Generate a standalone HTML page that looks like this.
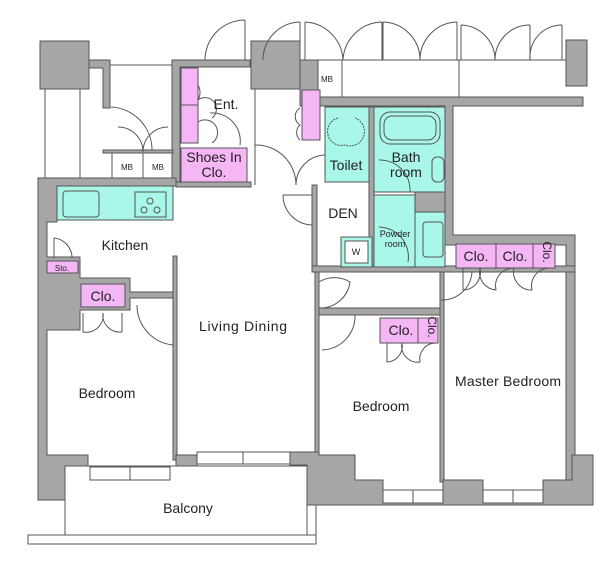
<!DOCTYPE html>
<html><head><meta charset="utf-8"><style>
html,body{margin:0;padding:0;background:#fff;}
svg{display:block;font-family:"Liberation Sans",sans-serif;}
</style></head><body>
<svg width="616" height="570" viewBox="0 0 616 570" xmlns="http://www.w3.org/2000/svg">
<g stroke="#555" stroke-width="1">
<line x1="300" y1="60" x2="566" y2="60"/>
<line x1="318" y1="97" x2="566" y2="97"/>
<line x1="342" y1="60" x2="342" y2="97"/>
<line x1="459" y1="60" x2="459" y2="97"/>
<g fill="#a6a6a6">
<rect x="40" y="41" width="49" height="48"/>
<path d="M89 60 H110 V108 H103 V68 H89 Z"/>
<rect x="566" y="40" width="21" height="46"/>
<path d="M172 60 H250 V67 H180 V186 H172 Z"/>
<rect x="251" y="41" width="49" height="48"/>
<path d="M300 60 H318 V97 H583 V106 H453 V235 H575 V490 H566 V245 H445 V106 H300 Z"/>
<path d="M38 178 H176 V186 H57 V222 H47 V257 H80 V278 H130 V292 H175 V298 H130 V310 H80 V330 H47 V455 H88 V500 H38 Z"/>
<rect x="103" y="150" width="70" height="3"/>
<rect x="176" y="182" width="75" height="5"/>
<rect x="312" y="185" width="5" height="82"/>
<rect x="369" y="107" width="5" height="160"/>
<rect x="312" y="266" width="263" height="6"/>
<rect x="315" y="308" width="128" height="7"/>
<rect x="315" y="272" width="4" height="190"/>
<rect x="440" y="272" width="4" height="210"/>
<rect x="173" y="256" width="4" height="204"/>
<rect x="415" y="192" width="30" height="20"/>
<path d="M176 455 H197 V467 H184 V481 H176 Z"/>
<path d="M290 452 H319 V455 H355 V480 H383 V490 H443 V480 H483 V490 H543 V480 H572 V455 H593 V505 H307 V465 H290 Z"/>
</g>
<rect x="45" y="89" width="35" height="89" fill="#fff"/>
<line x1="80" y1="89" x2="80" y2="178"/>
<line x1="110" y1="65" x2="172" y2="65"/>
<line x1="255" y1="89" x2="255" y2="185"/>
<g fill="#a8f7e8">
<rect x="57" y="186" width="116" height="34"/>
<rect x="325" y="107" width="44" height="75"/>
<rect x="374" y="107" width="71" height="85"/>
<rect x="374" y="195" width="41" height="72"/>
<rect x="415" y="212" width="30" height="55"/>
<rect x="341" y="237" width="31" height="30"/>
</g>
<rect x="345" y="241" width="23" height="22" fill="#fff"/>
<rect x="63" y="191" width="36" height="26" rx="3" fill="none"/>
<rect x="135" y="192" width="31" height="25" fill="none"/>
<circle cx="150" cy="201" r="3" fill="none"/><circle cx="144" cy="210" r="3" fill="none"/><circle cx="157" cy="210" r="3" fill="none"/>
<rect x="380" y="112" width="60" height="32" rx="10" fill="none"/>
<rect x="384" y="116" width="52" height="24" rx="8" fill="none"/>
<rect x="432" y="157" width="12" height="25" rx="5" fill="none"/>
<rect x="423" y="222" width="20" height="35" rx="3" fill="none"/>
<g fill="#f4b6f4">
<rect x="181" y="68" width="17" height="75"/>
<rect x="181" y="148" width="66" height="34"/>
<rect x="302" y="90" width="18" height="50"/>
<rect x="47" y="261" width="31" height="12"/>
<rect x="81" y="284" width="44" height="23"/>
<rect x="380" y="318" width="58" height="25"/>
<rect x="456" y="244" width="99" height="24"/>
</g>
<line x1="181" y1="105" x2="198" y2="105"/>
<line x1="418" y1="318" x2="418" y2="343"/>
<line x1="496" y1="244" x2="496" y2="268"/><line x1="533" y1="244" x2="533" y2="268"/>
<rect x="112" y="153" width="60" height="25" fill="#fff"/>
<line x1="143" y1="153" x2="143" y2="178"/>
<rect x="65" y="466" width="242" height="69" fill="#fff"/>
<rect x="28" y="535" width="288" height="9" fill="#fff"/>
<line x1="307" y1="505" x2="316" y2="505"/><line x1="316" y1="505" x2="316" y2="535"/>
<g fill="#fff">
<rect x="90" y="467" width="80" height="13"/>
<rect x="197" y="452" width="93" height="12"/>
<rect x="383" y="490" width="60" height="13"/>
<rect x="483" y="490" width="60" height="13"/>
</g>
<line x1="130" y1="467" x2="130" y2="480"/><line x1="243" y1="452" x2="243" y2="464"/>
<line x1="413" y1="490" x2="413" y2="503"/><line x1="513" y1="490" x2="513" y2="503"/>
<g fill="none">
<path d="M245 20 V60 M245 20 A40 40 0 0 0 205 60"/>
<path d="M305 22 V60 M305 22 A40 40 0 0 1 343 60 M382 22 V60 M382 22 A40 40 0 0 0 343 60"/>
<path d="M383 22 V60 M383 22 A38 38 0 0 1 420 60 M457 22 V60 M457 22 A38 38 0 0 0 420 60"/>
<path d="M461 25 V60 M461 25 A35 35 0 0 1 495 60 M530 25 V60 M530 25 A35 35 0 0 0 495 60 M562 25 V60 M562 25 A32 32 0 0 0 530 60"/>
<path d="M300 22 V60 M300 22 A38 38 0 0 0 263 60"/>
<path d="M111 107 A43 43 0 0 1 152 150 M118 127 A25 25 0 0 1 143 152 M168 127 A25 25 0 0 0 143 152"/>
<path d="M198 85 A15 15 0 0 1 198 100 A10 10 0 0 1 212 118 M198 122 A12 12 0 0 1 212 143 M210 113 A28 28 0 0 1 240 145"/>
<path d="M255 145 A40 40 0 0 1 296 185 M296 185 A30 30 0 0 1 325 155 M300 108 A10 10 0 0 0 300 125 A10 10 0 0 0 300 140"/>
<path d="M283 195 H312 M283 195 A30 30 0 0 0 312 225"/>
<path d="M54 238 V258 M54 238 A20 20 0 0 1 72 258"/>
<path d="M83 313 V332 A17 17 0 0 0 103 313 M122 313 V332 A17 17 0 0 1 103 313"/>
<path d="M137 305 A40 40 0 0 0 173 345"/>
<path d="M319 282 A30 30 0 0 1 350 282 A30 30 0 0 1 319 308"/>
<path d="M322 315 H355 A34 34 0 0 1 322 350"/>
<path d="M387 343 V362 A16 16 0 0 0 402 343 A16 16 0 0 0 420 362 A16 16 0 0 1 436 343"/>
<path d="M441 300 A30 30 0 0 0 472 272"/>
<path d="M463 268 V290 A18 18 0 0 0 480 268 A18 18 0 0 0 496 290 A18 18 0 0 1 514 268 A18 18 0 0 0 532 290 A18 18 0 0 1 548 268"/>
<path d="M379 227 A30 30 0 0 1 408 262 M379 160 A30 30 0 0 1 410 192"/>
<path d="M338 118 A10 10 0 0 0 345 145 A10 10 0 0 0 355 118" stroke-dasharray="2 1"/>
</g>
</g>
<g fill="#222" font-size="14" text-anchor="middle">
<text x="226" y="109">Ent.</text>
<text x="214" y="162">Shoes In</text><text x="214" y="177">Clo.</text>
<text x="346" y="170">Toilet</text>
<text x="406" y="162">Bath</text><text x="406" y="177">room</text>
<text x="343" y="218">DEN</text>
<text x="125" y="250">Kitchen</text>
<text x="103" y="301">Clo.</text>
<text x="243" y="331" textLength="88">Living Dining</text>
<text x="107" y="398">Bedroom</text>
<text x="381" y="411">Bedroom</text>
<text x="508" y="386" textLength="106">Master Bedroom</text>
<text x="188" y="513">Balcony</text>
<text x="401" y="335">Clo.</text>
<text x="476" y="261">Clo.</text>
<text x="515" y="261">Clo.</text>
<text x="539" y="256" transform="rotate(90 543 256)" font-size="12">Clo.</text>
<text x="424" y="331" transform="rotate(90 428 331)" font-size="12">Clo.</text>
<text x="395" y="237" font-size="9">Powder</text><text x="395" y="247" font-size="9">room</text>
<text x="356" y="255" font-size="9">W</text>
<text x="62" y="271" font-size="8">Sto.</text>
<text x="127" y="170" font-size="8">MB</text><text x="158" y="170" font-size="8">MB</text>
<text x="327" y="82" font-size="8">MB</text>
</g>
</svg>
</body></html>
